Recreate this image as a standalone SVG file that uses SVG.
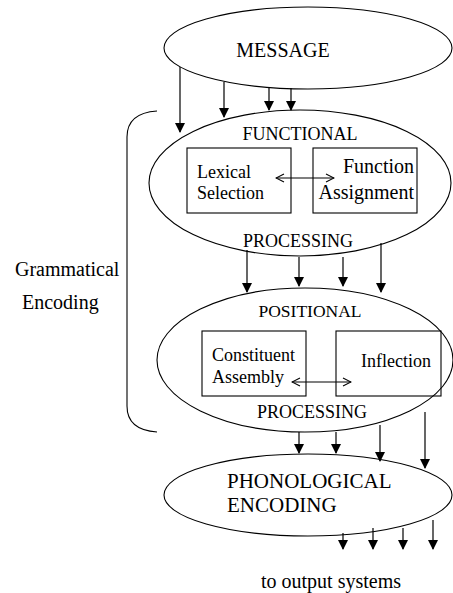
<svg xmlns="http://www.w3.org/2000/svg" width="453" height="593" viewBox="0 0 453 593">
<style>
.sh{fill:none;stroke:#000;stroke-width:1.1}
.ln{fill:none;stroke:#000;stroke-width:1.2}
text{font-family:"Liberation Serif","Times New Roman",serif;fill:#000}
</style>
<defs>
<marker id="ah" markerWidth="10" markerHeight="12" refX="9" refY="5" orient="auto" markerUnits="userSpaceOnUse" viewBox="0 0 10 10">
<path d="M0,0 L10,5 L0,10 Z" fill="#000"/>
</marker>
<marker id="oa" markerWidth="10" markerHeight="10" refX="9" refY="5" orient="auto-start-reverse" markerUnits="userSpaceOnUse" viewBox="0 0 10 10">
<path d="M1,1 L9,5 L1,9" fill="none" stroke="#000" stroke-width="1.1"/>
</marker>
</defs>
<rect width="453" height="593" fill="#fff"/>
<g id="message">
<ellipse class="sh" cx="308" cy="48" rx="144" ry="41"/>
<text x="283" y="57" font-size="20" text-anchor="middle">MESSAGE</text>
</g>
<g id="functional">
<ellipse class="sh" cx="300" cy="183" rx="151" ry="73"/>
<text x="300" y="140" font-size="18" text-anchor="middle">FUNCTIONAL</text>
<text x="298" y="247" font-size="18" text-anchor="middle">PROCESSING</text>
</g>
<g id="lexical-selection">
<rect class="sh" x="187" y="148" width="104" height="65"/>
<text x="197" y="178" font-size="18">Lexical</text>
<text x="197" y="199" font-size="18">Selection</text>
</g>
<g id="function-assignment">
<rect class="sh" x="313" y="148" width="104" height="65"/>
<text x="414" y="173" font-size="20" text-anchor="end">Function</text>
<text x="414" y="199" font-size="20" text-anchor="end">Assignment</text>
</g>
<g id="positional">
<ellipse class="sh" cx="305" cy="360" rx="148" ry="72"/>
<text x="310" y="317" font-size="17.5" text-anchor="middle">POSITIONAL</text>
<text x="312" y="418" font-size="18" text-anchor="middle">PROCESSING</text>
</g>
<g id="constituent-assembly">
<rect class="sh" x="202" y="331" width="104" height="65"/>
<text x="212" y="361" font-size="18">Constituent</text>
<text x="212" y="383" font-size="18">Assembly</text>
</g>
<g id="inflection">
<rect class="sh" x="336" y="331" width="105" height="65"/>
<text x="361" y="367" font-size="18">Inflection</text>
</g>
<g id="phonological">
<ellipse class="sh" cx="308" cy="495" rx="144" ry="41"/>
<text x="227" y="488" font-size="21">PHONOLOGICAL</text>
<text x="227" y="512" font-size="21">ENCODING</text>
</g>
<g id="grammatical-encoding">
<path class="sh" d="M157,111 Q127,113 127,137 L127,406 Q127,430 157,432"/>
<text x="15" y="276" font-size="20">Grammatical</text>
<text x="22" y="309" font-size="20">Encoding</text>
</g>
<g id="output-label">
<text x="331" y="588" font-size="20" text-anchor="middle">to output systems</text>
</g>
<g id="connectors">
<line class="ln" x1="180" y1="67" x2="180" y2="132" marker-end="url(#ah)"/>
<line class="ln" x1="224" y1="82" x2="224" y2="117" marker-end="url(#ah)"/>
<line class="ln" x1="269" y1="88" x2="269" y2="110" marker-end="url(#ah)"/>
<line class="ln" x1="291" y1="88" x2="291" y2="110" marker-end="url(#ah)"/>
<line class="ln" x1="247" y1="250" x2="247" y2="292" marker-end="url(#ah)"/>
<line class="ln" x1="299" y1="257" x2="299" y2="286" marker-end="url(#ah)"/>
<line class="ln" x1="343" y1="257" x2="343" y2="286" marker-end="url(#ah)"/>
<line class="ln" x1="381" y1="243" x2="381" y2="292" marker-end="url(#ah)"/>
<line class="ln" x1="299" y1="432" x2="299" y2="453" marker-end="url(#ah)"/>
<line class="ln" x1="336" y1="432" x2="336" y2="453" marker-end="url(#ah)"/>
<line class="ln" x1="380" y1="425" x2="380" y2="461" marker-end="url(#ah)"/>
<line class="ln" x1="425" y1="412" x2="425" y2="468" marker-end="url(#ah)"/>
<line class="ln" x1="343" y1="533" x2="343" y2="549" marker-end="url(#ah)"/>
<line class="ln" x1="373" y1="528" x2="373" y2="549" marker-end="url(#ah)"/>
<line class="ln" x1="403" y1="528" x2="403" y2="549" marker-end="url(#ah)"/>
<line class="ln" x1="433" y1="520" x2="433" y2="549" marker-end="url(#ah)"/>
<line class="sh" x1="276" y1="178" x2="334" y2="178" marker-start="url(#oa)" marker-end="url(#oa)"/>
<line class="sh" x1="292" y1="382" x2="351" y2="382" marker-start="url(#oa)" marker-end="url(#oa)"/>
</g>
</svg>
